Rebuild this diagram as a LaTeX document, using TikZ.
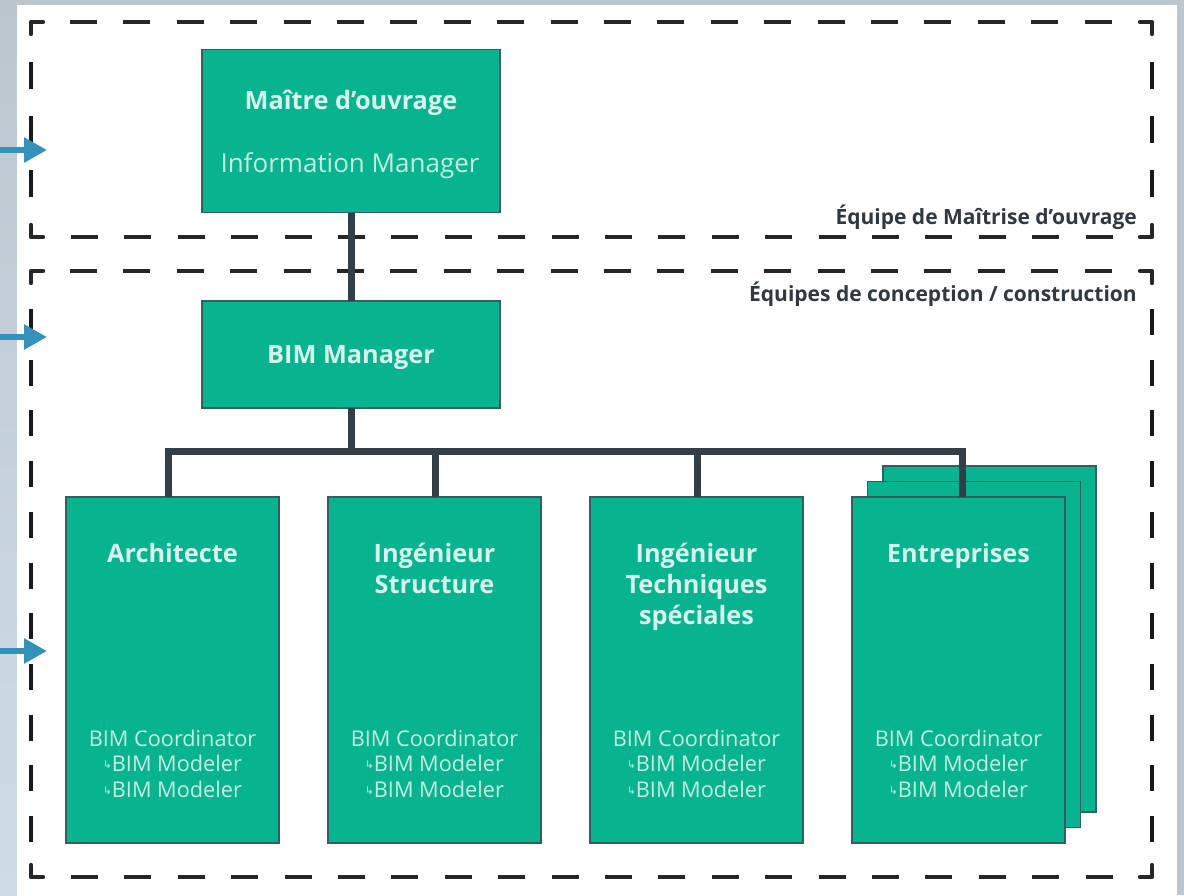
\documentclass[tikz,border=0pt]{standalone}
\usepackage{fontspec}
\setmainfont{Open Sans}
\newfontfamily\symf{DejaVu Sans}
\usetikzlibrary{arrows.meta,calc}
\definecolor{teal1}{HTML}{07B48F}
\definecolor{edge1}{HTML}{33605F}
\definecolor{conn}{HTML}{333F48}
\definecolor{blue1}{HTML}{3391BC}
\definecolor{bgr}{HTML}{BCC6CF}
\definecolor{bgl}{HTML}{BFD1E3}
\definecolor{bgb}{HTML}{CFDCE8}
\definecolor{head}{HTML}{D8F3EB}
\definecolor{sub}{HTML}{C4EDE1}
\newcommand{\hook}{\raisebox{3pt}{\symf\fontsize{10.5}{11}\selectfont ↳}}
\newcommand{\team}{BIM Coordinator\\\hook BIM Modeler\\\hook BIM Modeler}
\tikzset{
  x=1pt,y=-1pt,
  box/.style={draw=edge1,line width=1.6pt,fill=teal1,inner sep=0,outer sep=0,rectangle},
  ttl/.style={text=head,font=\bfseries\fontsize{25.3}{31}\selectfont,align=center,anchor=north,inner sep=0},
  subt/.style={text=sub,font=\fontsize{21.7}{25.6}\selectfont,align=center,inner sep=0},
  conn line/.style={draw=conn,line width=7pt},
  dash h/.style={draw=black!85,line width=4.4pt,dash pattern=on 27pt off 26.4pt},
  dash a/.style={draw=black!90,line width=4pt,dash pattern=on 27pt off 27pt},
  dash b/.style={draw=black!90,line width=4pt,dash pattern=on 26pt off 24.7pt},
  corner line/.style={draw=black!85,line width=4.4pt,line join=round,line cap=round},
  arrow line/.style={draw=blue1,line width=6pt,-{Triangle[width=24pt,length=23pt]}},
  cap label/.style={text=conn!90!black,font=\bfseries\fontsize{21}{24}\selectfont,anchor=base east,inner sep=0},
}
\begin{document}
\begin{tikzpicture}
\useasboundingbox (0,0) rectangle (1184,895);
\fill[bgr] (0,0) rectangle (1184,895);
\shade[top color=bgr,middle color=bgl,bottom color=bgb] (0,0) rectangle (17,895);
\fill[white] (17,5) rectangle (1177,895);

% dashed frames
\foreach \yt/\yb in {22/237,271/877}{
  \draw[corner line] (31,\yt+12) |- (43,\yt);
  \draw[corner line] (1140,\yt) -| (1152,\yt+12);
  \draw[corner line] (31,\yb-12) |- (43,\yb);
  \draw[corner line] (1140,\yb) -| (1152,\yb-12);
}
\draw[dash h] (70,22) -- (1120,22);
\draw[dash h] (71,237) -- (1120,237);
\draw[dash a] (31,62) -- (31,198);
\draw[dash a] (1152,62) -- (1152,198);
\draw[dash h] (70,271) -- (1120,271);
\draw[dash h] (71,877) -- (1120,877);
\draw[dash b] (31,309) -- (31,842);
\draw[dash b] (1152,309) -- (1152,842);

% arrows
\coordinate (a1s) at (0,150); \coordinate (a1e) at (47,150);
\coordinate (a2s) at (0,337); \coordinate (a2e) at (47,337);
\coordinate (a3s) at (0,651); \coordinate (a3e) at (47,651);

% stacked back sheets
\node[box,minimum width=213pt,minimum height=346pt] (back2) at (989.5,639) {};
\node[box,minimum width=213pt,minimum height=346pt] (back1) at (974,654.5) {};

% boxes
\node[box,minimum width=298pt,minimum height=163pt] (mo) at (351,131) {};
\node[box,minimum width=298pt,minimum height=107pt] (bim) at (351,354.5) {};
\node[box,minimum width=213pt,minimum height=346pt] (arch) at (172.5,670) {};
\node[box,minimum width=213pt,minimum height=346pt] (str) at (434.5,670) {};
\node[box,minimum width=213pt,minimum height=346pt] (tech) at (696.5,670) {};
\node[box,minimum width=213pt,minimum height=346pt] (ent) at (958.5,670) {};

% connectors
\coordinate (bus) at (351,451);
\coordinate (archtop) at (168,497);
\coordinate (strtop) at (435,497);
\coordinate (techtop) at (697,497);
\coordinate (enttop) at (962.5,497);
\draw[conn line] (mo.south) -- (bim.north);
\draw[conn line] (bim.south) -- (bus);
\draw[conn line,line join=miter] (archtop) |- (bus) -| (enttop);
\draw[conn line] (strtop) -- (strtop |- bus);
\draw[conn line] (techtop) -- (techtop |- bus);

\draw[arrow line] (a1s) -- (a1e);
\draw[arrow line] (a2s) -- (a2e);
\draw[arrow line] (a3s) -- (a3e);

% texts
\node[text=head,font=\bfseries\fontsize{25.3}{30}\selectfont,inner sep=0] (t1) at (351,103) {Maître d’ouvrage};
\node[subt,font=\fontsize{26}{30}\selectfont] (t2) at (350,166) {Information Manager};
\node[text=head,font=\bfseries\fontsize{25.3}{30}\selectfont,inner sep=0] (t3) at (351,358) {BIM Manager};

\node[ttl] (l1) at (172.5,543) {Architecte};
\node[ttl] (l2) at (434.5,543) {Ingénieur\\Structure};
\node[ttl] (l3) at (696.5,543) {Ingénieur\\Techniques\\spéciales};
\node[ttl] (l4) at (958.5,543) {Entreprises};

\foreach \nm/\cx in {s1/172.5,s2/434.5,s3/696.5,s4/958.5}{
  \node[subt,anchor=north] (\nm) at (\cx,729.5) {\team};
}

\node[cap label] (c1) at (1137,224) {Équipe de Maîtrise d’ouvrage};
\node[cap label] (c2) at (1137,301) {Équipes de conception / construction};
\end{tikzpicture}
\end{document}
